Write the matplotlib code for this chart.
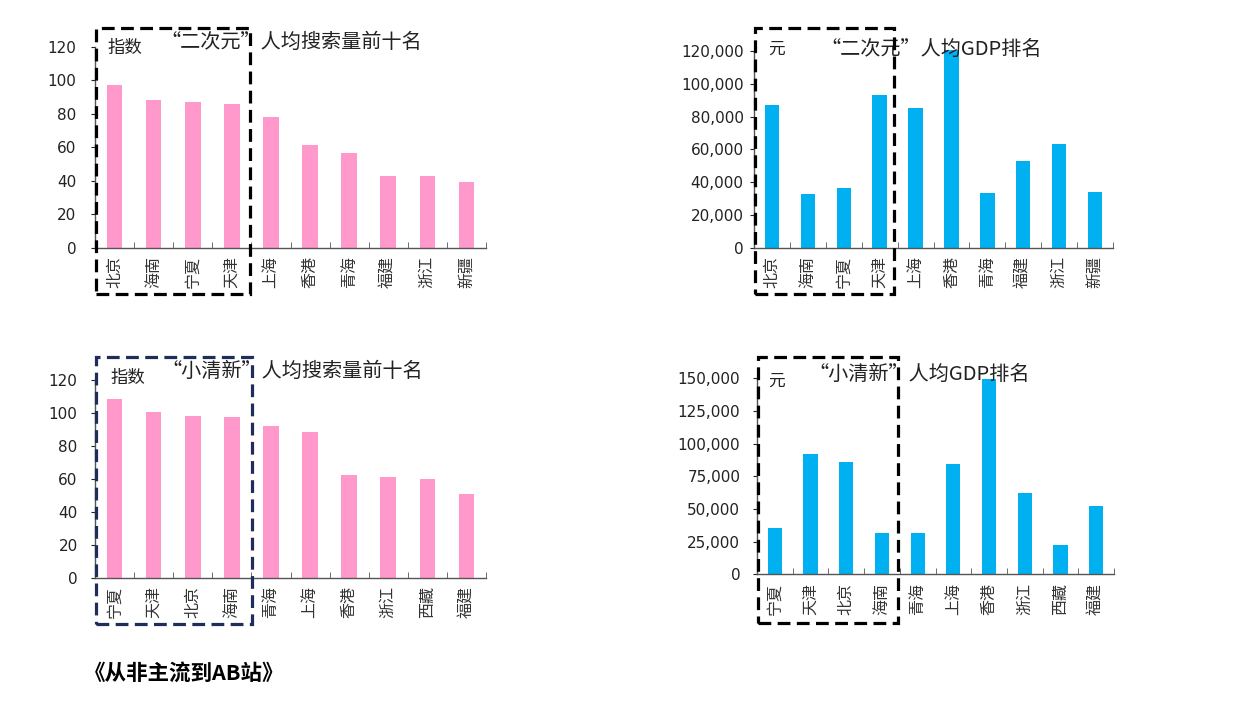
import numpy as np
import matplotlib
matplotlib.use("Agg")
import matplotlib.pyplot as plt
from matplotlib.patches import Rectangle
from matplotlib.ticker import StrMethodFormatter

plt.rcParams['font.family'] = ['Noto Sans CJK SC', 'DejaVu Sans']

W, H = 1241, 704

# data
cities_acg = ["北京", "海南", "宁夏", "天津", "上海", "香港", "青海", "福建", "浙江", "新疆"]
search_acg = [97.1, 88.2, 86.8, 85.8, 77.8, 61.3, 56.5, 42.6, 42.6, 39.0]
gdp_acg = [87000, 32500, 36200, 92900, 85000, 120500, 33600, 52900, 63500, 34000]

cities_fresh = ["宁夏", "天津", "北京", "海南", "青海", "上海", "香港", "浙江", "西藏", "福建"]
search_fresh = [108.7, 100.6, 98.2, 97.3, 91.9, 88.6, 62.5, 61.1, 60.1, 51.0]
gdp_fresh = [35500, 92100, 86000, 31400, 31900, 84400, 149500, 62500, 22400, 52300]

PINK = "#FF99CC"
BLUE = "#00B0F0"


def px_axes(fig, x0, x1, ytop, ybot):
    return fig.add_axes([x0 / W, 1 - ybot / H, (x1 - x0) / W, (ybot - ytop) / H])


def draw_bars(ax, cats, vals, color, ymax, step, ypad):
    x = np.arange(len(cats))
    ax.bar(x, vals, width=0.4, color=color, clip_on=False, zorder=2)
    ax.set_xlim(-0.5, len(cats) - 0.5)
    ax.set_ylim(0, ymax)
    ax.set_yticks(np.arange(0, ymax + 1, step))
    ax.yaxis.set_major_formatter(StrMethodFormatter("{x:,.0f}"))
    ax.set_xticks(x)
    ax.set_xticklabels(cats, rotation=90, fontsize=11.5, color="#333333",
                       family=['Noto Sans CJK SC'])
    ax.set_xticks(np.arange(-0.5, len(cats), 1), minor=True)
    ax.tick_params(axis="x", which="major", length=0, pad=6)
    ax.tick_params(axis="x", which="minor", direction="in", length=4, color="#555555")
    ax.tick_params(axis="y", length=3, pad=ypad, labelsize=11, colors="#222222")
    for lab in ax.get_yticklabels():
        lab.set_family("DejaVu Sans")
    for s in ["top", "right"]:
        ax.spines[s].set_visible(False)
    for s in ["left", "bottom"]:
        ax.spines[s].set_color("#555555")
        ax.spines[s].set_linewidth(1)


def dashed_box(fig, x0, x1, y0, y1, color):
    fig.patches.append(Rectangle((x0 / W, 1 - y1 / H), (x1 - x0) / W, (y1 - y0) / H,
                                 transform=fig.transFigure, fill=False, ec=color,
                                 lw=2.3, linestyle=(0, (4, 2)), zorder=5))


def ftext(fig, x, y, s, size, **kw):
    fig.text(x / W, 1 - y / H, s, fontsize=size, va="center", ha="left", color="#222222", **kw)


fig = plt.figure(figsize=(W / 100, H / 100), dpi=100)

ax1 = px_axes(fig, 95, 486, 46.7, 247.5)
draw_bars(ax1, cities_acg, search_acg, PINK, 120, 20, 10.5)
ax2 = px_axes(fig, 754, 1113, 51, 247.7)
draw_bars(ax2, cities_acg, gdp_acg, BLUE, 120000, 20000, 4.5)
ax3 = px_axes(fig, 95, 486, 380, 577.7)
draw_bars(ax3, cities_fresh, search_fresh, PINK, 120, 20, 9.5)
ax4 = px_axes(fig, 757, 1114, 378.3, 574.3)
draw_bars(ax4, cities_fresh, gdp_fresh, BLUE, 150000, 25000, 9)

dashed_box(fig, 96, 250, 28, 294, "black")
dashed_box(fig, 755, 894, 28, 294, "black")
dashed_box(fig, 96, 252, 357, 624, "#1F2D5A")
dashed_box(fig, 758, 898, 357, 623, "black")

ftext(fig, 107, 48, "指数", 12.5)
ftext(fig, 160, 42, "“二次元”人均搜索量前十名", 14.5)
ftext(fig, 768, 49, "元", 12)
ftext(fig, 820, 49, "“二次元”人均GDP排名", 14.5)
ftext(fig, 110, 378, "指数", 12.5)
ftext(fig, 161, 371, "“小清新”人均搜索量前十名", 14.5)
ftext(fig, 768, 381, "元", 12)
ftext(fig, 808, 374, "“小清新”人均GDP排名", 14.5)

fig.text(84 / W, 1 - 673 / H, "《从非主流到AB站》", fontsize=15.5, fontweight="bold",
         va="center", ha="left", color="black")

fig.savefig("out.png", dpi=100)
